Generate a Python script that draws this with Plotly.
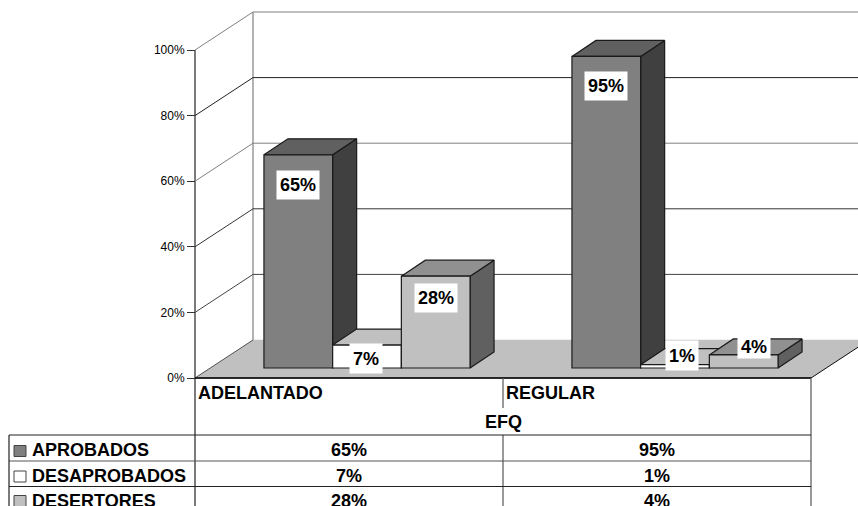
import plotly.graph_objects as go

categories = ["ADELANTADO", "REGULAR"]
group_title = "EFQ"
series_names = ["APROBADOS", "DESAPROBADOS", "DESERTORES"]
aprobados = [65, 95]
desaprobados = [7, 1]
desertores = [28, 4]
tick_values = [0, 20, 40, 60, 80, 100]

W, H = 858, 506
X0, Y0 = 195, 378       # pixel position of the category origin and of 0%
CAT = 308               # pixels per category
PCT = 3.28              # pixels per percent


def ux(px):
    return (px - X0) / CAT


def uy(py):
    return (Y0 - py) / PCT


XR = [ux(0), ux(W)]
YR = [uy(H), uy(0)]
DX, DY = 58 / CAT, 38 / PCT          # depth of the box
BDX, BDY = 24 / CAT, 16 / PCT        # depth of one bar
SHX, SHY = 18 / CAT, 10 / PCT        # shift of the bar front plane from the box front
BW = 68.7 / CAT
FONT = "Liberation Sans, Arial, sans-serif"
EDGE = "#1a1a1a"

series = [aprobados, desaprobados, desertores]
front = ["#808080", "#ffffff", "#c0c0c0"]
top = ["#606060", "#c0c0c0", "#909090"]
side = ["#404040", "#808080", "#606060"]
# label centre relative to the bar: (px right of bar centre, px below bar top, box height)
label_shift = [[(0, 30, 28), (-1, 13, 29), (0, 22, 28)], [(0, 30, 28), (7, -9, 29), (10, -8, 22)]]

fig = go.Figure()


def poly(xs, ys, fill, line=EDGE, width=1.2):
    fig.add_trace(go.Scatter(
        x=xs, y=ys, mode="lines", fill="toself", fillcolor=fill,
        line=dict(color=line, width=width), hoverinfo="skip", showlegend=False))


def wire(xs, ys, color, width=1.0):
    fig.add_trace(go.Scatter(
        x=xs, y=ys, mode="lines", line=dict(color=color, width=width),
        hoverinfo="skip", showlegend=False))


# floor
poly([0, DX, 2 + DX, 2, 0], [0, DY, DY, 0, 0], "#c0c0c0", line="#c0c0c0", width=0.5)
wire([0, 2], [0, 0], "#111111", 1.2)
wire([2, 2 + DX], [0, DY], "#111111", 1.0)
wire([0, DX], [0, DY], "#555555", 1.0)

# walls and gridlines
grid_colors = {0: "#a8a8a8", 20: "#444444", 40: "#333333", 60: "#808080", 80: "#222222", 100: "#808080"}
wire([DX, DX], [DY, 100 + DY], "#808080", 1.2)
wire([0, 0], [0, 100], "#222222", 1.2)
for t in tick_values:
    if t:
        wire([0, DX, XR[1]], [t, t + DY, t + DY], grid_colors[t], 1.0)

# side and top faces, painted from back-left to front-right
annotations = []
for c in range(len(categories)):
    for s, vals in enumerate(series):
        v = vals[c]
        left = c + 0.5 + (s - 1.5) * BW + SHX
        right = left + BW
        t = v + SHY
        poly([right, right + BDX, right + BDX, right, right],
             [SHY, SHY + BDY, t + BDY, t, SHY], side[s])
        poly([left, left + BDX, right + BDX, right, left],
             [t, t + BDY, t + BDY, t, t], top[s])

# hidden carrier for the percent axis
fig.add_trace(go.Scatter(x=[0], y=[0], mode="markers", marker=dict(opacity=0),
                         xaxis="x", yaxis="y3", hoverinfo="skip", showlegend=False))

# front faces as real bars on an overlaid copy of the axes
for s, vals in enumerate(series):
    fig.add_trace(go.Bar(
        x=[c + 0.5 + (s - 1) * BW + SHX for c in range(len(categories))],
        y=vals, base=SHY, width=BW, name=series_names[s],
        marker=dict(color=front[s], line=dict(color=EDGE, width=1.2)),
        xaxis="x2", yaxis="y2", hoverinfo="skip", showlegend=False))


def text(px, py, s, size=18, xanchor="center", **kw):
    annotations.append(dict(
        x=ux(px), y=uy(py), xref="x", yref="y", text=s, showarrow=False,
        xanchor=xanchor, yanchor="middle",
        font=dict(family=FONT, size=size, color="#000000"), **kw))


# data labels on the bars
for c in range(len(categories)):
    for s, vals in enumerate(series):
        v = vals[c]
        sx, sy, bh = label_shift[c][s]
        cx = X0 + (c + 0.5 + (s - 1) * BW + SHX) * CAT + sx
        cy = Y0 - (v + SHY) * PCT + sy
        box_w = 42 if v >= 10 else 32
        text(cx, cy, f"<b>{v}%</b>", bgcolor="#ffffff", width=box_w, height=bh, borderpad=0)

# data table
T_COL = [195, 503, 811]
T_ROW = [435, 461, 486.5]
shapes = []


def tline(x0, y0, x1, y1, color="#222222", width=1.2):
    shapes.append(dict(type="line", xref="x", yref="y", x0=ux(x0), y0=uy(y0), x1=ux(x1), y1=uy(y1),
                       line=dict(color=color, width=width), layer="above"))


tline(T_COL[0], Y0, T_COL[2], Y0, "#111111", 1.4)
tline(T_COL[0], Y0, T_COL[0], H)
tline(T_COL[2], Y0, T_COL[2], H, "#555555")
tline(T_COL[1], Y0, T_COL[1], 408, "#555555")
tline(T_COL[1], T_ROW[0], T_COL[1], H, "#555555")
tline(9, T_ROW[0], T_COL[2], T_ROW[0])
tline(9, T_ROW[1], T_COL[2], T_ROW[1], "#555555")
tline(9, T_ROW[2], T_COL[2], T_ROW[2])
tline(9, T_ROW[0], 9, H)

text(196, 393, f"<b>{categories[0]}</b>", xanchor="left")
text(504, 393, f"<b>{categories[1]}</b>", xanchor="left")
text((T_COL[0] + T_COL[2]) / 2, 422, f"<b>{group_title}</b>")

row_mid = [450, 476, 501]
for s, vals in enumerate(series):
    ym = row_mid[s]
    bm = [451, 476.5, 501][s]
    shapes.append(dict(type="rect", xref="x", yref="y", x0=ux(14), x1=ux(26), y0=uy(bm - 5.5), y1=uy(bm + 5.5),
                       fillcolor=front[s], line=dict(color="#444444", width=1), layer="above"))
    text(29.5, ym, f"<b>{series_names[s]}</b>", xanchor="left")
    for c in range(len(categories)):
        text((T_COL[c] + T_COL[c + 1]) / 2, ym, f"<b>{vals[c]}%</b>")

hidden = dict(visible=False, fixedrange=True)
fig.update_layout(
    width=W, height=H, margin=dict(l=0, r=0, t=0, b=0, pad=0),
    paper_bgcolor="#ffffff", plot_bgcolor="#ffffff", barmode="overlay", showlegend=False,
    xaxis=dict(range=XR, domain=[0, 1], **hidden),
    yaxis=dict(range=YR, domain=[0, 1], **hidden),
    xaxis2=dict(range=XR, overlaying="x", anchor="y2", **hidden),
    yaxis2=dict(range=YR, overlaying="y", anchor="x2", **hidden),
    yaxis3=dict(
        range=YR, overlaying="y", anchor="free", position=X0 / W, side="left",
        tickvals=tick_values, ticktext=[f"{t}%" for t in tick_values],
        ticks="outside", ticklen=8, tickcolor="#333333", tickwidth=1,
        showline=False, showgrid=False, zeroline=False,
        tickfont=dict(family=FONT, size=12, color="#000000"), fixedrange=True),
    annotations=annotations, shapes=shapes,
)

fig.write_html("out.html", config=dict(displayModeBar=False),
               post_script="document.body.style.margin='0';")
